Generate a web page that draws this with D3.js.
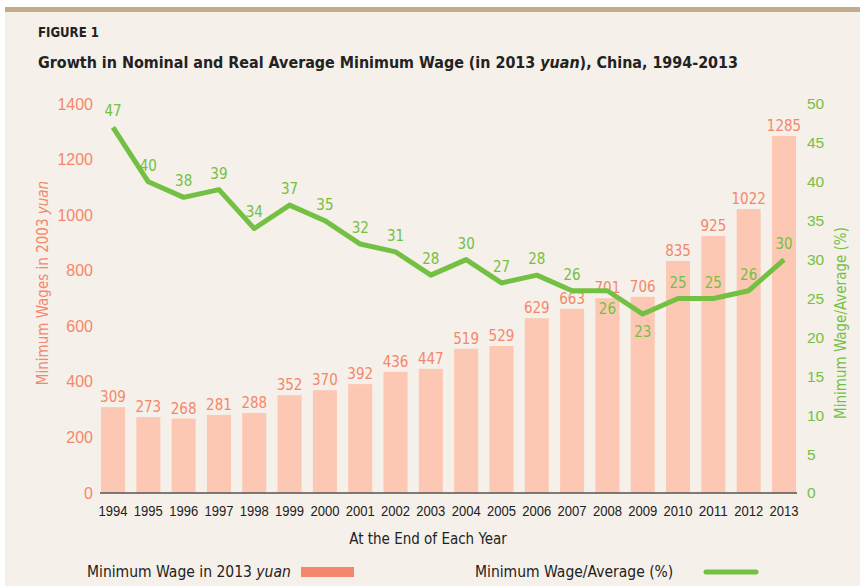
<!DOCTYPE html>
<html>
<head>
<meta charset="utf-8">
<script src="https://cdnjs.cloudflare.com/ajax/libs/d3/7.8.5/d3.min.js"></script>
<style>
  body {margin:0; background:#ffffff;}
  svg {display:block; font-family:"DejaVu Sans Condensed","DejaVu Sans",sans-serif;}
</style>
</head>
<body>
<div id="chart"></div>
<script>
//Chart data
var years=["1994","1995","1996","1997","1998","1999","2000","2001","2002","2003",
           "2004","2005","2006","2007","2008","2009","2010","2011","2012","2013"];
var wages=[309,273,268,281,288,352,370,392,436,447,519,529,629,663,701,706,835,925,1022,1285];
var ratio=[47,40,38,39,34,37,35,32,31,28,30,27,28,26,26,23,25,25,26,30];
//labels of the ratio line that sit under the line
var below=["2008","2009"];
var wageTicks=[0,200,400,600,800,1000,1200,1400];
var ratioTicks=[0,5,10,15,20,25,30,35,40,45,50];

//Dimensions and colors
var w=860;
var h=586;
var salmon="#f4876b";
var barFill="#fdc8b3";
var green="#74c043";
var dark="#222222";

var svg=d3.select("#chart")
          .append("svg")
          .attr("width",w)
          .attr("height",h);

//Background and top band
svg.append("rect")
   .attr("x",5).attr("y",7)
   .attr("width",w-5).attr("height",h-7)
   .attr("fill","#f5f0e9");
svg.append("rect")
   .attr("x",5).attr("y",7)
   .attr("width",w-5).attr("height",5)
   .attr("fill","#c4ab8a");

//Headings
svg.append("text")
   .text("FIGURE 1")
   .attr("x",38).attr("y",37)
   .attr("textLength",61)
   .attr("lengthAdjust","spacingAndGlyphs")
   .style("font-size","14px")
   .style("font-weight","bold")
   .attr("fill",dark);
var title=svg.append("text")
   .attr("x",38).attr("y",68)
   .attr("textLength",700)
   .attr("lengthAdjust","spacingAndGlyphs")
   .style("font-size","16px")
   .style("font-weight","bold")
   .attr("fill",dark);
title.append("tspan").text("Growth in Nominal and Real Average Minimum Wage (in 2013 ");
title.append("tspan").text("yuan").style("font-style","italic");
title.append("tspan").text("), China, 1994-2013");

//Scales
var x=d3.scaleBand()
        .domain(years)
        .range([101,796])
        .paddingInner(0.32)
        .paddingOuter(0);
var yL=d3.scaleLinear().domain([0,1400]).range([493,104]);
var yR=d3.scaleLinear().domain([0,50]).range([493,104]);

//Bars
svg.append("g")
   .selectAll("rect")
   .data(wages)
   .enter()
   .append("rect")
   .attr("x",function(d,i) {return x(years[i]);})
   .attr("y",function(d) {return yL(d);})
   .attr("width",x.bandwidth())
   .attr("height",function(d) {return yL(0)-yL(d);})
   .attr("fill",barFill);

//Bar labels
svg.append("g")
   .selectAll("text")
   .data(wages)
   .enter()
   .append("text")
   .text(function(d) {return d;})
   .attr("x",function(d,i) {return x(years[i])+x.bandwidth()/2;})
   .attr("y",function(d) {return yL(d)-5;})
   .attr("text-anchor","middle")
   .style("font-size","15px")
   .attr("fill",salmon);

//Left axis
var leftAxis=svg.append("g")
   .attr("transform","translate(96,0)")
   .call(d3.axisLeft(yL).tickValues(wageTicks).tickFormat(d3.format("d")).tickSize(0).tickPadding(3));
leftAxis.select(".domain").remove();
leftAxis.selectAll("text")
   .style("font-size","16px")
   .style("font-family","inherit")
   .attr("fill",salmon);

//Right axis
var rightAxis=svg.append("g")
   .attr("transform","translate(804,0)")
   .call(d3.axisRight(yR).tickValues(ratioTicks).tickSize(0).tickPadding(3));
rightAxis.select(".domain").remove();
rightAxis.selectAll("text")
   .style("font-size","15.5px")
   .style("font-family","inherit")
   .attr("fill",green);

//Bottom axis
var bottomAxis=svg.append("g")
   .attr("transform","translate(0,493)")
   .call(d3.axisBottom(x).tickSize(0).tickPadding(13));
bottomAxis.select(".domain")
   .attr("d","M100,0H797")
   .attr("stroke","#555555")
   .attr("stroke-width",1.5);
bottomAxis.selectAll("text")
   .attr("textLength",29)
   .attr("lengthAdjust","spacingAndGlyphs")
   .style("font-size","14.5px")
   .style("font-family","inherit")
   .attr("fill",dark);

//Axis titles
var lt=svg.append("text")
   .attr("transform","translate(48,283) rotate(-90)")
   .attr("text-anchor","middle")
   .style("font-size","15px")
   .attr("fill",salmon);
lt.append("tspan").text("Minimum Wages in 2003 ");
lt.append("tspan").text("yuan").style("font-style","italic");
svg.append("text")
   .text("Minimum Wage/Average (%)")
   .attr("transform","translate(846,323) rotate(-90)")
   .attr("text-anchor","middle")
   .style("font-size","15px")
   .attr("fill",green);
svg.append("text")
   .text("At the End of Each Year")
   .attr("x",428).attr("y",544)
   .attr("text-anchor","middle")
   .style("font-size","15px")
   .attr("fill",dark);

//Ratio line
var line=d3.line()
   .x(function(d,i) {return x(years[i])+x.bandwidth()/2;})
   .y(function(d) {return yR(d);});
svg.append("path")
   .datum(ratio)
   .attr("d",line)
   .attr("fill","none")
   .attr("stroke",green)
   .attr("stroke-width",5)
   .attr("stroke-linejoin","round");

//Ratio labels
svg.append("g")
   .selectAll("text")
   .data(ratio)
   .enter()
   .append("text")
   .text(function(d) {return d;})
   .attr("x",function(d,i) {return x(years[i])+x.bandwidth()/2;})
   .attr("y",function(d,i) {
       if (below.indexOf(years[i])>=0) {return yR(d)+23;}
       return yR(d)-11;
   })
   .attr("text-anchor","middle")
   .style("font-size","15px")
   .attr("fill",green);

//Legend
var l1=svg.append("text")
   .attr("x",87).attr("y",577)
   .style("font-size","15.5px")
   .attr("fill",dark);
l1.append("tspan").text("Minimum Wage in 2013 ");
l1.append("tspan").text("yuan").style("font-style","italic");
svg.append("rect")
   .attr("x",301).attr("y",567)
   .attr("width",53).attr("height",10)
   .attr("fill",salmon);
svg.append("text")
   .text("Minimum Wage/Average (%)")
   .attr("x",475).attr("y",577)
   .style("font-size","15.5px")
   .attr("fill",dark);
svg.append("line")
   .attr("x1",706).attr("x2",756)
   .attr("y1",572).attr("y2",572)
   .attr("stroke",green)
   .attr("stroke-width",5)
   .attr("stroke-linecap","round");
</script>
</body>
</html>
